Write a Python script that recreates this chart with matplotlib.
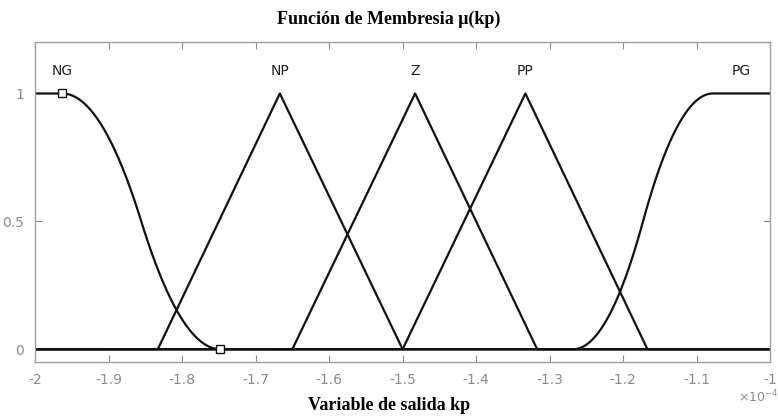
import numpy as np
import matplotlib.pyplot as plt

# output variable kp, axis in units of 1e-4
x_range = [-2.0, -1.0]
ng_params = [-1.963, -1.748]          # zmf
np_params = [-1.833, -1.667, -1.500]  # trimf
z_params = [-1.650, -1.483, -1.317]   # trimf
pp_params = [-1.500, -1.333, -1.167]  # trimf
pg_params = [-1.268, -1.078]          # smf
mf_names = ["NG", "NP", "Z", "PP", "PG"]
label_x = [-1.963, -1.667, -1.483, -1.333, -1.040]


def zmf(x, a, b):
    y = np.ones_like(x)
    m = (a + b) / 2
    s1 = (x > a) & (x <= m)
    s2 = (x > m) & (x <= b)
    y[s1] = 1 - 2 * ((x[s1] - a) / (b - a)) ** 2
    y[s2] = 2 * ((x[s2] - b) / (b - a)) ** 2
    y[x > b] = 0
    return y


def smf(x, a, b):
    return 1 - zmf(x, a, b)


def trimf(x, a, b, c):
    return np.clip(np.minimum((x - a) / (b - a), (c - x) / (c - b)), 0, 1)


x = np.linspace(x_range[0], x_range[1], 2001)

fig = plt.figure(figsize=(7.78, 4.19), dpi=100)
ax = fig.add_axes([0.045, 0.136, 0.945, 0.763])

curves = [zmf(x, *ng_params), trimf(x, *np_params), trimf(x, *z_params),
          trimf(x, *pp_params), smf(x, *pg_params)]
for y in curves:
    ax.plot(x, y, color="#111111", lw=1.6)

# selected MF handles
ax.plot([ng_params[0], ng_params[1]], [1, 0], ls="none", marker="s", ms=6,
        mfc="white", mec="#111111", mew=1.0)

for name, lx in zip(mf_names, label_x):
    ax.text(lx, 1.087, name, ha="center", va="center", fontsize=10, color="#222222")

ax.set_xlim(x_range)
ax.set_ylim(-0.05, 1.2)
ax.set_xticks(np.arange(-2.0, -0.95, 0.1))
ax.set_xticklabels(["-2", "-1.9", "-1.8", "-1.7", "-1.6", "-1.5", "-1.4",
                    "-1.3", "-1.2", "-1.1", "-1"])
ax.set_yticks([0, 0.5, 1])
ax.set_yticklabels(["0", "0.5", "1"])
ax.tick_params(direction="in", top=True, right=True, colors="#8c8c8c",
               labelsize=10, length=5, pad=8)
for s in ax.spines.values():
    s.set_color("#a0a0a0")
    s.set_linewidth(1.0)

ax.text(1.012, -0.082, r"$\times10^{-4}$", transform=ax.transAxes, ha="right",
        va="top", fontsize=9, color="#8c8c8c")

fig.text(0.5, 0.955, "Función de Membresia μ(kp)", ha="center", va="center",
         family="Liberation Serif", weight="bold", fontsize=13)
fig.text(0.5, 0.033, "Variable de salida kp", ha="center", va="center",
         family="Liberation Serif", weight="bold", fontsize=13)

fig.savefig("out.png", dpi=100)
